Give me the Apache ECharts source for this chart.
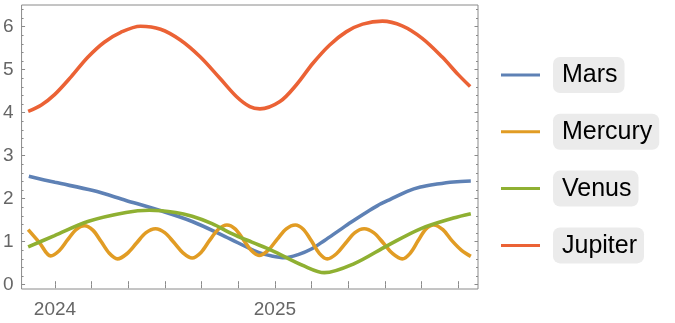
<!DOCTYPE html>
<html>
<head>
<meta charset="utf-8">
<script src="https://cdn.jsdelivr.net/npm/echarts@6/dist/echarts.min.js"></script>
<style>
html,body{margin:0;padding:0;background:#fff;}
#chart{width:675px;height:323px;}
</style>
</head>
<body>
<div id="chart"></div>
<script>
// ---- data (decimal years, distance from Earth in AU) ----
const seriesNames = ['Mars', 'Mercury', 'Venus', 'Jupiter'];

const marsT  = [2023.881, 2024.000, 2024.173, 2024.323, 2024.474, 2024.624, 2024.774, 2024.925, 2024.985, 2025.045, 2025.106, 2025.166, 2025.226, 2025.286, 2025.346, 2025.406, 2025.467, 2025.527, 2025.602, 2025.662, 2025.737, 2025.812, 2025.891];
const marsAU = [2.52, 2.38, 2.19, 1.96, 1.73, 1.47, 1.12, 0.75, 0.67, 0.63, 0.70, 0.83, 1.03, 1.24, 1.45, 1.65, 1.84, 1.99, 2.17, 2.27, 2.34, 2.39, 2.41];

const mercuryT  = [2023.878, 2023.929, 2023.980, 2024.019, 2024.057, 2024.096, 2024.134, 2024.172, 2024.209, 2024.247, 2024.284, 2024.327, 2024.371, 2024.414, 2024.457, 2024.499, 2024.541, 2024.582, 2024.624, 2024.664, 2024.703, 2024.743, 2024.782, 2024.819, 2024.855, 2024.892, 2024.928, 2024.969, 2025.011, 2025.052, 2025.093, 2025.129, 2025.166, 2025.202, 2025.238, 2025.280, 2025.322, 2025.364, 2025.406, 2025.449, 2025.493, 2025.536, 2025.579, 2025.615, 2025.651, 2025.686, 2025.722, 2025.764, 2025.806, 2025.849, 2025.891];
const mercuryAU = [1.28, 0.98, 0.67, 0.79, 1.04, 1.28, 1.37, 1.27, 1.01, 0.73, 0.60, 0.72, 0.97, 1.21, 1.30, 1.21, 0.98, 0.74, 0.62, 0.75, 1.03, 1.29, 1.39, 1.30, 1.06, 0.80, 0.68, 0.80, 1.06, 1.30, 1.39, 1.29, 1.02, 0.73, 0.60, 0.72, 0.97, 1.21, 1.30, 1.21, 0.97, 0.72, 0.60, 0.73, 1.02, 1.29, 1.39, 1.28, 1.02, 0.80, 0.66];

const venusT  = [2023.878, 2023.998, 2024.149, 2024.323, 2024.429, 2024.549, 2024.624, 2024.714, 2024.804, 2024.895, 2024.985, 2025.135, 2025.225, 2025.361, 2025.512, 2025.662, 2025.812, 2025.891];
const venusAU = [0.88, 1.14, 1.47, 1.68, 1.73, 1.68, 1.59, 1.42, 1.19, 0.99, 0.80, 0.43, 0.28, 0.49, 0.91, 1.30, 1.55, 1.65];

const jupiterT  = [2023.878, 2023.938, 2023.998, 2024.074, 2024.149, 2024.224, 2024.299, 2024.389, 2024.480, 2024.570, 2024.660, 2024.750, 2024.826, 2024.886, 2024.932, 2025.023, 2025.098, 2025.173, 2025.248, 2025.324, 2025.399, 2025.489, 2025.579, 2025.670, 2025.760, 2025.835, 2025.888];
const jupiterAU = [4.03, 4.18, 4.42, 4.84, 5.29, 5.64, 5.87, 6.01, 5.94, 5.69, 5.30, 4.80, 4.37, 4.14, 4.09, 4.26, 4.65, 5.15, 5.57, 5.88, 6.06, 6.13, 6.02, 5.73, 5.30, 4.88, 4.61];

// ---- ticks ----
const xTickYears  = [2024, 2024.1667, 2024.3333, 2024.5, 2024.6667, 2024.8333, 2025, 2025.1667, 2025.3333, 2025.5, 2025.6667, 2025.8333];
const xLabelYears = [2024, 2025];
const yMajorTicks = [0, 1, 2, 3, 4, 5, 6];
const yMinorTicks = [0.2, 0.4, 0.6, 0.8, 1.2, 1.4, 1.6, 1.8, 2.2, 2.4, 2.6, 2.8, 3.2, 3.4, 3.6, 3.8, 4.2, 4.4, 4.6, 4.8, 5.2, 5.4, 5.6, 5.8, 6.2, 6.4];

// ---- styling ----
const colors = ['#5E81B5', '#E19C24', '#8FB032', '#EB6235'];
const frameColor = '#8a8a8a';
const labelColor = '#666666';
const FONT = '"Liberation Sans", Arial, Helvetica, sans-serif';
const xMin = 2023.848, xMax = 2025.9237;
const yMin = -0.1, yMax = 6.505;

function zip(t, v) { return t.map((x, i) => [x, v[i]]); }
const seriesData = [zip(marsT, marsAU), zip(mercuryT, mercuryAU), zip(venusT, venusAU), zip(jupiterT, jupiterAU)];

function xAx(pos, showLabel) {
  return {
    type: 'value', position: pos, min: xMin, max: xMax,
    axisLine: { show: false }, splitLine: { show: false },
    axisTick: { show: true, inside: true, length: 3.5, customValues: xTickYears, lineStyle: { color: frameColor, width: 1 } },
    axisLabel: showLabel ? {
      show: true, customValues: xLabelYears, formatter: v => String(Math.round(v)),
      fontSize: 19, color: labelColor, fontFamily: FONT, margin: 11
    } : { show: false }
  };
}
function yAx(pos, ticks, len, showLabel) {
  return {
    type: 'value', position: pos, min: yMin, max: yMax,
    axisLine: { show: false }, splitLine: { show: false },
    axisTick: { show: true, inside: true, length: len, customValues: ticks, lineStyle: { color: frameColor, width: 1 } },
    axisLabel: showLabel ? {
      show: true, customValues: yMajorTicks, formatter: v => String(Math.round(v)),
      fontSize: 19, color: labelColor, fontFamily: FONT, margin: 8
    } : { show: false }
  };
}

const chart = echarts.init(document.getElementById('chart'), null, { renderer: 'canvas' });
chart.setOption({
  animation: false,
  backgroundColor: '#ffffff',
  grid: { left: 18, right: 197, top: 5, bottom: 34, show: true, borderColor: frameColor, borderWidth: 1, backgroundColor: 'transparent' },
  xAxis: [xAx('bottom', true), xAx('top', false)],
  yAxis: [
    yAx('left', yMajorTicks, 3.5, true),
    yAx('left', yMinorTicks, 2, false),
    yAx('right', yMajorTicks, 3.5, false),
    yAx('right', yMinorTicks, 2, false)
  ],
  legend: {
    orient: 'vertical', left: 501, top: 57, padding: 0,
    itemWidth: 39, itemHeight: 3, itemGap: 20.8, icon: 'rect',
    selectedMode: false,
    data: seriesNames,
    formatter: name => '{g|}{b|' + name + '}',
    textStyle: {
      rich: {
        g: { width: 8 },
        b: { fontSize: 25, lineHeight: 25, fontFamily: FONT, color: '#000000', backgroundColor: '#ebebeb', borderRadius: 7, padding: [6, 7, 5, 9] }
      }
    }
  },
  series: seriesNames.map((name, i) => ({
    name: name, type: 'line', xAxisIndex: 0, yAxisIndex: 0,
    data: seriesData[i], smooth: 0.33, showSymbol: false, symbol: 'none',
    lineStyle: { color: colors[i], width: 3.6 },
    itemStyle: { color: colors[i] },
    emphasis: { disabled: true }
  }))
});
</script>
</body>
</html>
